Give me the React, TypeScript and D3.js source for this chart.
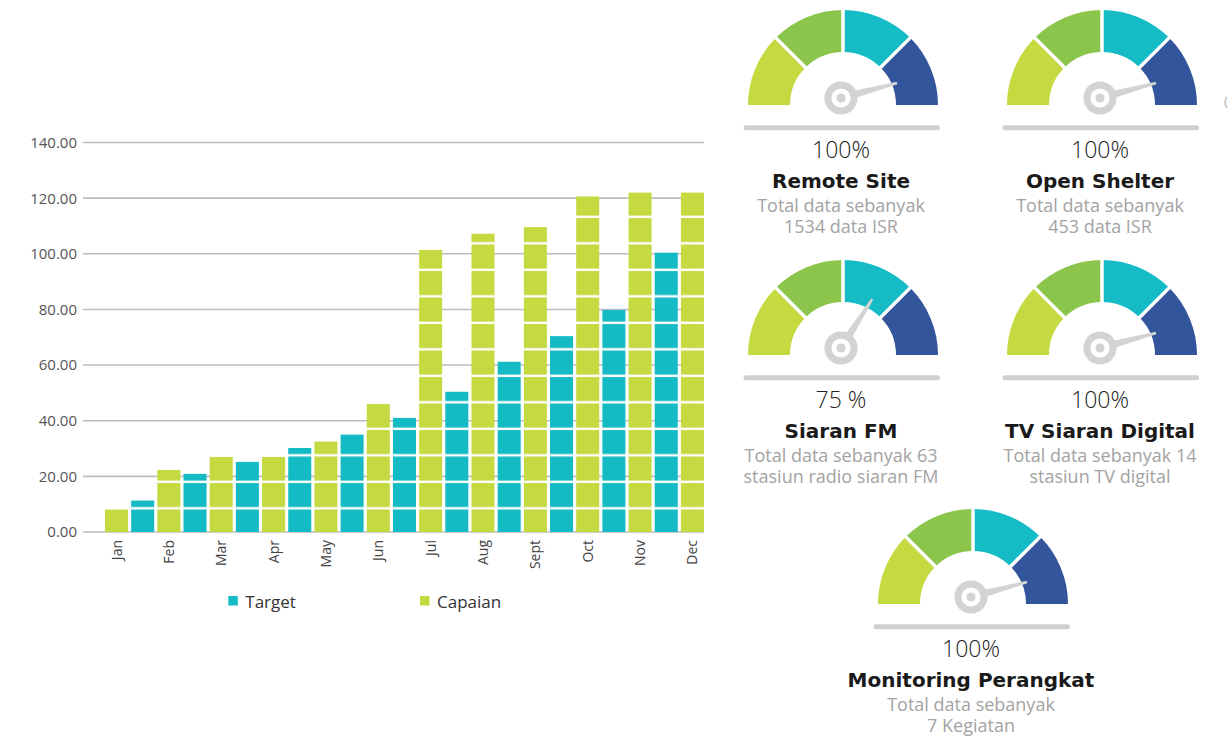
import React from "react";
import * as d3 from "d3";

// bar chart data
const months = ["Jan", "Feb", "Mar", "Apr", "May", "Jun", "Jul", "Aug", "Sept", "Oct", "Nov", "Dec"];
const capaian = [8.2, 22.3, 27, 27, 32.5, 46, 101.4, 107.2, 109.6, 120.6, 122, 122];
const target: (number | null)[] = [11.3, 20.9, 25.2, 30.2, 35, 41, 50.4, 61.2, 70.4, 79.8, 100.4, null];
const yTicks = [0, 20, 40, 60, 80, 100, 120, 140];
const series = ["Capaian", "Target"];
const legendItems = ["Target", "Capaian"];

// gauges
const gaugeValues = [100, 100, 75, 100, 100];
const gaugeLabels = ["100%", "100%", "75 %", "100%", "100%"];
const gaugeTitles = ["Remote Site", "Open Shelter", "Siaran FM", "TV Siaran Digital", "Monitoring Perangkat"];
const gaugeLine1 = ["Total data sebanyak", "Total data sebanyak", "Total data sebanyak 63", "Total data sebanyak 14", "Total data sebanyak"];
const gaugeLine2 = ["1534 data ISR", "453 data ISR", "stasiun radio siaran FM", "stasiun TV digital", "7 Kegiatan"];
const gaugeBands = [0, 25, 50, 75, 100];

const colors: Record<string, string> = { Capaian: "#c5d940", Target: "#15bbc4" };
const bandColors = ["#c5d940", "#8bc54b", "#15bcc5", "#32559b"];
const gaugePos = [
  [843, 105],
  [1102, 105],
  [843, 355],
  [1102, 355],
  [973, 604],
];

const FONT = "'Open Sans', sans-serif";
const BOLD = "'DejaVu Sans', sans-serif";
const BLOCK = 26.5; // height of one stacked block in the bars

function BarChart() {
  const y = d3.scaleLinear().domain([0, 140]).range([532, 142.5]);
  const x = d3.scaleBand<string>().domain(months).range([103.4, 731.7]).padding(0);
  const sub = d3.scaleBand<string>().domain(series).range([0, x.bandwidth()]).paddingInner(0.12).paddingOuter(0.06);
  const y0 = y(0);
  const gapOff = BLOCK - 23.7;

  return (
    <g>
      <defs>
        {series.map((s) => (
          <pattern key={s} id={"pat-" + s} patternUnits="userSpaceOnUse" x={0} y={y0} width={10} height={BLOCK}>
            <rect width={10} height={BLOCK} fill={colors[s]} />
            <rect y={gapOff - 1.2} width={10} height={2.4} fill="#fff" />
          </pattern>
        ))}
      </defs>
      {yTicks.map((t) => (
        <g key={t}>
          <line x1={83} x2={704} y1={y(t)} y2={y(t)} stroke="#bdbdc1" strokeWidth={1.6} />
          <text x={77} y={y(t)} dy="0.36em" textAnchor="end" fontSize={15} fill="#555" fontFamily={FONT}>
            {t.toFixed(2)}
          </text>
        </g>
      ))}
      {months.map((m, i) => {
        const vals = [capaian[i], target[i]];
        return (
          <g key={m} transform={`translate(${x(m)},0)`}>
            {series.map((s, j) =>
              vals[j] == null ? null : (
                <rect
                  key={s}
                  x={sub(s)}
                  y={y(vals[j] as number)}
                  width={sub.bandwidth()}
                  height={y0 - y(vals[j] as number)}
                  fill={`url(#pat-${s})`}
                />
              )
            )}
            <text
              transform={`translate(${(sub("Capaian") as number) + sub.bandwidth() / 2},540) rotate(-90)`}
              dy="0.36em"
              textAnchor="end"
              fontSize={14}
              fill="#444"
              fontFamily={FONT}
            >
              {m}
            </text>
          </g>
        );
      })}
      {legendItems.map((s, i) => (
        <g key={s} transform={`translate(${228.3 + i * 191.7},596)`}>
          <rect width={9.5} height={9.5} fill={colors[s]} />
          <text x={17} y={11.7} fontSize={17} fill="#333" fontFamily={FONT}>
            {s}
          </text>
        </g>
      ))}
    </g>
  );
}

function Gauge({ i }: { i: number }) {
  const [cx, cy] = gaugePos[i];
  const rO = 95;
  const rI = 53;
  const ang = d3.scaleLinear().domain([0, 100]).range([-Math.PI / 2, Math.PI / 2]);
  const needle = d3.scaleLinear().domain([0, 100]).range([-95, 75]);
  const arc = d3.arc<any>().innerRadius(rI).outerRadius(rO);
  const hx = -2;
  const hy = -7;
  const th = (needle(gaugeValues[i]) * Math.PI) / 180;
  const L = 58;
  const ux = Math.sin(th);
  const uy = -Math.cos(th);
  const px = -uy;
  const py = ux;
  const pts = [
    [hx + px * 4.5, hy + py * 4.5],
    [hx + ux * L + px * 1.2, hy + uy * L + py * 1.2],
    [hx + ux * L - px * 1.2, hy + uy * L - py * 1.2],
    [hx - px * 4.5, hy - py * 4.5],
  ];
  const tx = -2;
  return (
    <g transform={`translate(${cx},${cy})`}>
      {bandColors.map((c, k) => (
        <path
          key={k}
          d={arc({ startAngle: ang(gaugeBands[k]), endAngle: ang(gaugeBands[k + 1]) }) as string}
          fill={c}
        />
      ))}
      {gaugeBands.slice(1, -1).map((b) => {
        const a = ang(b);
        return (
          <line
            key={b}
            x1={Math.sin(a) * (rI - 1)}
            y1={-Math.cos(a) * (rI - 1)}
            x2={Math.sin(a) * (rO + 1)}
            y2={-Math.cos(a) * (rO + 1)}
            stroke="#fff"
            strokeWidth={3.5}
          />
        );
      })}
      <polygon points={pts.map((p) => p.join(",")).join(" ")} fill="#d3d3d3" />
      <circle cx={hx} cy={hy} r={16.6} fill="#d3d3d3" />
      <circle cx={hx} cy={hy} r={9.6} fill="#fff" />
      <circle cx={hx} cy={hy} r={4.6} fill="#d3d3d3" />
      <line x1={-97} x2={94.5} y1={22.7} y2={22.7} stroke="#d0d0d0" strokeWidth={5} strokeLinecap="round" />
      <text x={tx} y={53} textAnchor="middle" fontSize={23} fontWeight={300} fill="#222" fontFamily={FONT}>
        {gaugeLabels[i]}
      </text>
      <text x={tx} y={82.7} textAnchor="middle" fontSize={20} fontWeight="bold" fill="#1a1a1a" fontFamily={BOLD}>
        {gaugeTitles[i]}
      </text>
      <text x={tx} y={107.2} textAnchor="middle" fontSize={18} fill="#a3a3a3" fontFamily={FONT}>
        {gaugeLine1[i]}
      </text>
      <text x={tx} y={127.5} textAnchor="middle" fontSize={18} fill="#a3a3a3" fontFamily={FONT}>
        {gaugeLine2[i]}
      </text>
    </g>
  );
}

export default function App() {
  return (
    <div style={{ position: "absolute", left: 0, top: 0 }}>
      <svg width={1230} height={740} style={{ display: "block", background: "#fff" }}>
        <BarChart />
        {gaugeValues.map((_, i) => (
          <Gauge key={i} i={i} />
        ))}
        <text x={1224} y={106} fontSize={13} fill="#aaa" fontFamily={FONT}>
          (
        </text>
      </svg>
    </div>
  );
}
